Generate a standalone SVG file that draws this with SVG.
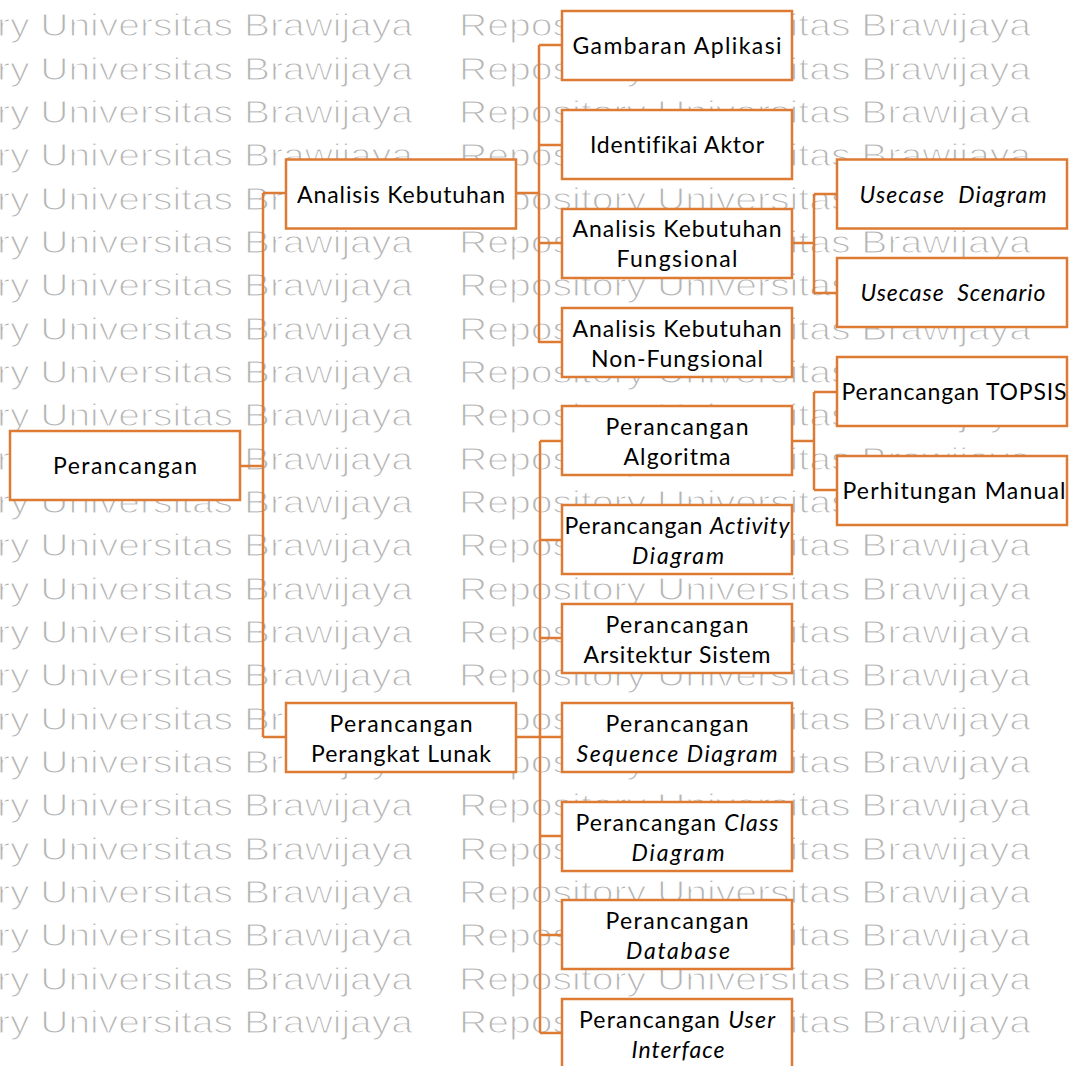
<svg xmlns="http://www.w3.org/2000/svg" xmlns:xlink="http://www.w3.org/1999/xlink" width="1071" height="1066" viewBox="0 0 1071 1066">
  <style>
    .box { fill: #ffffff; stroke: #DD7A33; stroke-width: 2.5; }
    .wire { fill: none; stroke: #DD7A33; stroke-width: 2.5; }
    .lbl { font-family: Lato, "Liberation Sans", sans-serif; font-size: 23px; fill: #000000; text-anchor: middle; font-variant-ligatures: none; }
    .it { font-style: italic; }
    .wm { font-family: "Liberation Sans", Arial, sans-serif; font-size: 31px; fill: #b4b4b4; stroke: #ffffff; stroke-width: 1.1; }
  </style>
  <defs>
    <g id="wm-row">
      <text class="wm" x="-157" y="0" textLength="570" lengthAdjust="spacingAndGlyphs">Repository Universitas Brawijaya</text>
      <text class="wm" x="459" y="0" textLength="572" lengthAdjust="spacingAndGlyphs">Repository Universitas Brawijaya</text>
    </g>
  </defs>

  <rect x="0" y="0" width="1071" height="1066" fill="#ffffff"/>

  <!-- background watermark rows -->
  <g id="watermark">
    <use xlink:href="#wm-row" y="-7"/>
    <use xlink:href="#wm-row" y="36.3"/>
    <use xlink:href="#wm-row" y="79.6"/>
    <use xlink:href="#wm-row" y="123"/>
    <use xlink:href="#wm-row" y="166.3"/>
    <use xlink:href="#wm-row" y="209.6"/>
    <use xlink:href="#wm-row" y="253"/>
    <use xlink:href="#wm-row" y="296.3"/>
    <use xlink:href="#wm-row" y="339.6"/>
    <use xlink:href="#wm-row" y="383"/>
    <use xlink:href="#wm-row" y="426.3"/>
    <use xlink:href="#wm-row" y="469.6"/>
    <use xlink:href="#wm-row" y="513"/>
    <use xlink:href="#wm-row" y="556.3"/>
    <use xlink:href="#wm-row" y="599.6"/>
    <use xlink:href="#wm-row" y="643"/>
    <use xlink:href="#wm-row" y="686.3"/>
    <use xlink:href="#wm-row" y="729.6"/>
    <use xlink:href="#wm-row" y="773"/>
    <use xlink:href="#wm-row" y="816.3"/>
    <use xlink:href="#wm-row" y="859.6"/>
    <use xlink:href="#wm-row" y="903"/>
    <use xlink:href="#wm-row" y="946.3"/>
    <use xlink:href="#wm-row" y="989.6"/>
    <use xlink:href="#wm-row" y="1033"/>
  </g>

  <!-- tree connectors -->
  <g id="connectors" class="wire">
    <!-- root to level 1 -->
    <path d="M240 466 H263 M263 193 V737 M263 193 H286 M263 737 H286"/>
    <!-- Analisis Kebutuhan branch -->
    <path d="M516 193 H539 M539 45 V343 M539 45 H562 M539 145 H562 M539 243 H562 M539 342 H562"/>
    <!-- Fungsional to use case boxes -->
    <path d="M792 243 H814 M814 194 V293 M814 194 H837 M814 293 H837"/>
    <!-- Perangkat Lunak branch -->
    <path d="M516 737 H540 M540 441 V1033 M540 441 H562 M540 540 H562 M540 638 H562 M540 737 H562 M540 836 H562 M540 935 H562 M540 1033 H562"/>
    <!-- Algoritma to TOPSIS / manual -->
    <path d="M792 441 H814 M814 392 V490 M814 392 H837 M814 490 H837"/>
  </g>

  <!-- root -->
  <g id="perancangan">
    <rect class="box" x="10" y="431" width="230" height="69"/>
    <text class="lbl" x="125" y="474" textLength="144" lengthAdjust="spacing">Perancangan</text>
  </g>

  <!-- level 1 -->
  <g id="analisis-kebutuhan">
    <rect class="box" x="286" y="159.5" width="230" height="69"/>
    <text class="lbl" x="401" y="202.5" textLength="208" lengthAdjust="spacing">Analisis Kebutuhan</text>
  </g>
  <g id="perancangan-perangkat-lunak">
    <rect class="box" x="286" y="703" width="230" height="69"/>
    <text class="lbl" x="401" y="731.5" textLength="143" lengthAdjust="spacing">Perancangan</text>
    <text class="lbl" x="401" y="761.5" textLength="180" lengthAdjust="spacing">Perangkat Lunak</text>
  </g>

  <!-- analysis children -->
  <g id="gambaran-aplikasi">
    <rect class="box" x="562" y="11" width="230" height="69"/>
    <text class="lbl" x="677" y="54" textLength="209" lengthAdjust="spacing">Gambaran Aplikasi</text>
  </g>
  <g id="identifikasi-aktor">
    <rect class="box" x="562" y="110" width="230" height="69"/>
    <text class="lbl" x="677" y="153" textLength="174" lengthAdjust="spacing">Identifikai Aktor</text>
  </g>
  <g id="kebutuhan-fungsional">
    <rect class="box" x="562" y="209" width="230" height="69"/>
    <text class="lbl" x="677" y="237" textLength="209" lengthAdjust="spacing">Analisis Kebutuhan</text>
    <text class="lbl" x="677" y="267" textLength="121" lengthAdjust="spacing">Fungsional</text>
  </g>
  <g id="kebutuhan-non-fungsional">
    <rect class="box" x="562" y="308" width="230" height="69"/>
    <text class="lbl" x="677" y="336.5" textLength="209" lengthAdjust="spacing">Analisis Kebutuhan</text>
    <text class="lbl" x="677" y="366.5" textLength="172" lengthAdjust="spacing">Non-Fungsional</text>
  </g>

  <!-- use case outputs -->
  <g id="usecase-diagram">
    <rect class="box" x="837" y="159.5" width="230" height="69"/>
    <text class="lbl it" x="953" y="202.5" textLength="187" lengthAdjust="spacing">Usecase&#160;&#160;Diagram</text>
  </g>
  <g id="usecase-scenario">
    <rect class="box" x="837" y="258" width="230" height="69"/>
    <text class="lbl it" x="953" y="301" textLength="185" lengthAdjust="spacing">Usecase&#160;&#160;Scenario</text>
  </g>

  <!-- design children -->
  <g id="perancangan-algoritma">
    <rect class="box" x="562" y="406" width="230" height="69"/>
    <text class="lbl" x="677" y="434.5" textLength="143" lengthAdjust="spacing">Perancangan</text>
    <text class="lbl" x="677" y="464.5" textLength="107" lengthAdjust="spacing">Algoritma</text>
  </g>
  <g id="perancangan-topsis">
    <rect class="box" x="837" y="357" width="230" height="69"/>
    <text class="lbl" x="954" y="400" textLength="225" lengthAdjust="spacing">Perancangan TOPSIS</text>
  </g>
  <g id="perhitungan-manual">
    <rect class="box" x="837" y="456" width="230" height="69"/>
    <text class="lbl" x="954" y="499" textLength="223" lengthAdjust="spacing">Perhitungan Manual</text>
  </g>
  <g id="perancangan-activity">
    <rect class="box" x="562" y="505" width="230" height="69"/>
    <text class="lbl" x="677" y="533.5" textLength="225" lengthAdjust="spacing">Perancangan <tspan class="it">Activity</tspan></text>
    <text class="lbl it" x="678" y="563.5" textLength="92" lengthAdjust="spacing">Diagram</text>
  </g>
  <g id="perancangan-arsitektur">
    <rect class="box" x="562" y="604" width="230" height="69"/>
    <text class="lbl" x="677" y="632.5" textLength="143" lengthAdjust="spacing">Perancangan</text>
    <text class="lbl" x="677" y="662.5" textLength="187" lengthAdjust="spacing">Arsitektur Sistem</text>
  </g>
  <g id="perancangan-sequence">
    <rect class="box" x="562" y="703" width="230" height="69"/>
    <text class="lbl" x="677" y="731.5" textLength="143" lengthAdjust="spacing">Perancangan</text>
    <text class="lbl it" x="677" y="761.5" textLength="201" lengthAdjust="spacing">Sequence Diagram</text>
  </g>
  <g id="perancangan-class">
    <rect class="box" x="562" y="802" width="230" height="69"/>
    <text class="lbl" x="677" y="830.5" textLength="203" lengthAdjust="spacing">Perancangan <tspan class="it">Class</tspan></text>
    <text class="lbl it" x="678" y="860.5" textLength="93" lengthAdjust="spacing">Diagram</text>
  </g>
  <g id="perancangan-database">
    <rect class="box" x="562" y="900" width="230" height="69"/>
    <text class="lbl" x="677" y="928.5" textLength="143" lengthAdjust="spacing">Perancangan</text>
    <text class="lbl it" x="678" y="958.5" textLength="104" lengthAdjust="spacing">Database</text>
  </g>
  <g id="perancangan-ui">
    <rect class="box" x="562" y="999" width="230" height="69"/>
    <text class="lbl" x="677" y="1027.5" textLength="196" lengthAdjust="spacing">Perancangan <tspan class="it">User</tspan></text>
    <text class="lbl it" x="678" y="1057.5" textLength="93" lengthAdjust="spacing">Interface</text>
  </g>
</svg>
